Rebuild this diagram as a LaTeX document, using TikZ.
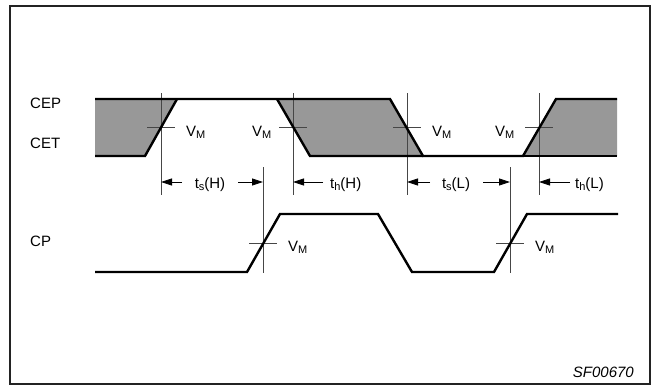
\documentclass[tikz,border=0pt]{standalone}
\usepackage{fontspec}
\setmainfont{Liberation Sans}
\usetikzlibrary{arrows.meta}
\definecolor{fillgray}{RGB}{152,152,152}
\definecolor{thinc}{RGB}{70,70,70}
\definecolor{framec}{RGB}{35,35,35}
\newcommand\lowsub[1]{\raisebox{-0.35ex}{\fontsize{11}{11}\selectfont #1}}
\begin{document}
\begin{tikzpicture}[x=1pt,y=-1pt,
  sig/.style={line width=2.4pt,line join=miter,black},
  thinl/.style={line width=0.8pt,thinc},
  dimarrow/.style={line width=0.8pt,black,-{Triangle[length=11pt,width=7pt]}},
  lab/.style={font=\fontsize{15}{18}\selectfont,inner sep=0pt,text=black},
  vm/.style={lab,anchor=base west}]
\useasboundingbox (0,0) rectangle (654,386);
\draw[line width=2.4pt,framec] (10,6) rectangle (650,384);
% shaded regions
\fill[fillgray] (95,99) -- (177,99) -- (145,156) -- (95,156) -- cycle;
\fill[fillgray] (277,99) -- (390,99) -- (423,156) -- (310,156) -- cycle;
\fill[fillgray] (556,99) -- (617,99) -- (617,156) -- (523,156) -- cycle;
% vertical reference lines
\draw[thinl] (161,93) -- (161,195);
\draw[thinl] (293,93) -- (293,195);
\draw[thinl] (407,93) -- (407,195);
\draw[thinl] (539,93) -- (539,195);
\draw[thinl] (263,167) -- (263,273);
\draw[thinl] (510,167) -- (510,273);
% crosshair ticks
\draw[thinl] (147,127.5) -- (175,127.5);
\draw[thinl] (279,127.5) -- (307,127.5);
\draw[thinl] (393,127.5) -- (421,127.5);
\draw[thinl] (525,127.5) -- (553,127.5);
\draw[thinl] (249,243) -- (277,243);
\draw[thinl] (496,243) -- (524,243);
% CEP / CET signals
\draw[sig] (95,99) -- (390,99) -- (423,156) -- (523,156) -- (556,99) -- (617,99);
\draw[sig] (95,156) -- (145,156) -- (177,99);
\draw[sig] (277,99) -- (310,156) -- (423,156);
\draw[sig] (523,156) -- (617,156);
% CP signal
\draw[sig] (95,272) -- (247,272) -- (280,214) -- (378,214) -- (412,272) -- (494,272) -- (527,214) -- (618,214);
% dimension arrows
\coordinate (a1s) at (182,182); \coordinate (a1e) at (161,182);
\coordinate (a2s) at (238,182); \coordinate (a2e) at (263,182);
\coordinate (a3s) at (323,182); \coordinate (a3e) at (293,182);
\coordinate (a4s) at (430,182); \coordinate (a4e) at (407,182);
\coordinate (a5s) at (483,182); \coordinate (a5e) at (510,182);
\coordinate (a6s) at (570,182); \coordinate (a6e) at (539,182);
\draw[dimarrow] (a1s) -- (a1e);
\draw[dimarrow] (a2s) -- (a2e);
\draw[dimarrow] (a3s) -- (a3e);
\draw[dimarrow] (a4s) -- (a4e);
\draw[dimarrow] (a5s) -- (a5e);
\draw[dimarrow] (a6s) -- (a6e);
% timing labels
\node[lab,anchor=base] (tsH) at (210,188) {t\lowsub{s}(H)};
\node[lab,anchor=base west] (thH) at (330,188) {t\lowsub{h}(H)};
\node[lab,anchor=base] (tsL) at (456,188) {t\lowsub{s}(L)};
\node[lab,anchor=base west] (thL) at (575,188) {t\lowsub{h}(L)};
% V_M labels
\node[vm] (vm1) at (186,136) {V\lowsub{M}};
\node[vm] (vm2) at (252,136) {V\lowsub{M}};
\node[vm] (vm3) at (432,136) {V\lowsub{M}};
\node[vm] (vm4) at (495,136) {V\lowsub{M}};
\node[vm] (vm5) at (288,251) {V\lowsub{M}};
\node[vm] (vm6) at (535,251) {V\lowsub{M}};
% signal names
\node[lab,anchor=base west] (cep) at (30,108) {CEP};
\node[lab,anchor=base west] (cet) at (30,148) {CET};
\node[lab,anchor=base west] (cp) at (30,246) {CP};
\node[lab,anchor=base east] (code) at (634,377) {\itshape SF00670};
\end{tikzpicture}
\end{document}
